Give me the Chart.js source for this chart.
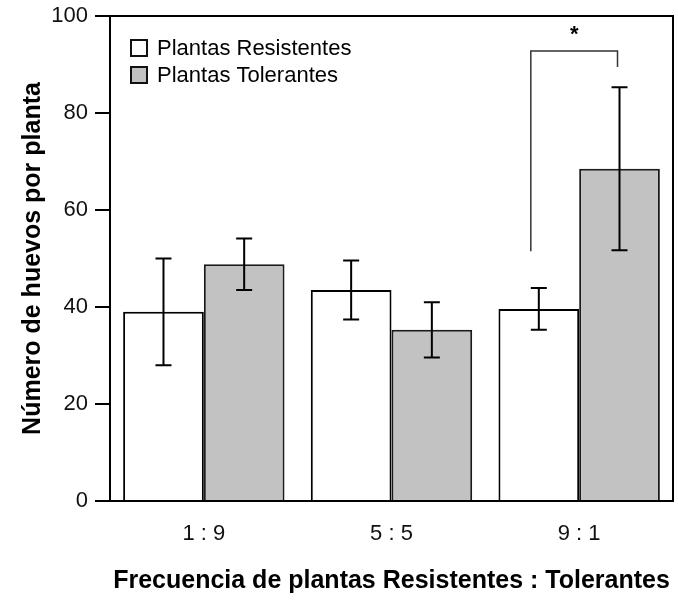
<!DOCTYPE html>
<html>
<head>
<meta charset="utf-8">
<script src="https://cdn.jsdelivr.net/npm/chart.js@4.4.1/dist/chart.umd.min.js"></script>
<style>
  html, body { margin: 0; padding: 0; background: #fff; }
  #wrap { width: 678px; height: 605px; }
</style>
</head>
<body>
<div id="wrap"><canvas id="chart" width="678" height="605"></canvas></div>
<script>
// datos
const categories = ['1 : 9', '5 : 5', '9 : 1'];
const seriesNames = ['Plantas Resistentes', 'Plantas Tolerantes'];
const resistentes = [39.0, 43.5, 39.6];
const resistentesErr = [11.0, 6.1, 4.3];
const tolerantes = [48.8, 35.3, 68.5];
const tolerantesErr = [5.3, 5.7, 16.8];
const yTicks = [0, 20, 40, 60, 80, 100];
// corchete de significancia en el grupo 9 : 1 (nivel, pata izq., pata der.)
const sigBracket = [92.8, 51.5, 89.5];
const sigLabel = '*';

const FONT = "'Liberation Sans', Arial, sans-serif";

const errorBars = {
  id: 'errorBars',
  afterDatasetsDraw(chart) {
    const ctx = chart.ctx;
    const y = chart.scales.y;
    const errs = [resistentesErr, tolerantesErr];
    ctx.save();
    ctx.strokeStyle = '#000';
    ctx.lineWidth = 2;
    chart.data.datasets.forEach((ds, di) => {
      chart.getDatasetMeta(di).data.forEach((bar, i) => {
        const v = ds.data[i];
        const top = y.getPixelForValue(v + errs[di][i]);
        const bot = y.getPixelForValue(v - errs[di][i]);
        ctx.beginPath();
        ctx.moveTo(bar.x, top); ctx.lineTo(bar.x, bot);
        ctx.moveTo(bar.x - 8, top); ctx.lineTo(bar.x + 8, top);
        ctx.moveTo(bar.x - 8, bot); ctx.lineTo(bar.x + 8, bot);
        ctx.stroke();
      });
    });

    // corchete + asterisco
    const left = chart.getDatasetMeta(0).data[2].x - 8;
    const right = chart.getDatasetMeta(1).data[2].x - 2;
    const lvl = y.getPixelForValue(sigBracket[0]);
    ctx.lineWidth = 1.5;
    ctx.strokeStyle = '#333';
    ctx.beginPath();
    ctx.moveTo(left, y.getPixelForValue(sigBracket[1]));
    ctx.lineTo(left, lvl);
    ctx.lineTo(right, lvl);
    ctx.lineTo(right, y.getPixelForValue(sigBracket[2]));
    ctx.stroke();
    ctx.fillStyle = '#000';
    ctx.font = 'bold 22px ' + FONT;
    ctx.textAlign = 'center';
    ctx.textBaseline = 'middle';
    ctx.fillText(sigLabel, (left + right) / 2, lvl - 16);
    ctx.restore();
  }
};

const frameAndLegend = {
  id: 'frameAndLegend',
  afterDraw(chart) {
    const ctx = chart.ctx;
    const a = chart.chartArea;
    ctx.save();
    ctx.strokeStyle = '#000';
    ctx.lineWidth = 2;
    ctx.beginPath();
    ctx.moveTo(a.left, a.top);
    ctx.lineTo(a.right, a.top);
    ctx.lineTo(a.right, a.bottom);
    ctx.stroke();

    // leyenda dentro del área
    ctx.font = '22px ' + FONT;
    ctx.textBaseline = 'middle';
    ctx.textAlign = 'left';
    chart.data.datasets.forEach((ds, i) => {
      const cy = a.top + 32 + i * 27;
      ctx.fillStyle = ds.backgroundColor;
      ctx.fillRect(a.left + 21, cy - 8, 16, 16);
      ctx.lineWidth = 2;
      ctx.strokeStyle = '#111';
      ctx.strokeRect(a.left + 21, cy - 8, 16, 16);
      ctx.fillStyle = '#000';
      ctx.fillText(ds.label, a.left + 47, cy + 1);
    });
    ctx.restore();
  }
};

new Chart(document.getElementById('chart'), {
  type: 'bar',
  data: {
    labels: categories,
    datasets: [
      {
        label: seriesNames[0],
        data: resistentes,
        backgroundColor: '#ffffff',
        borderColor: '#000',
        borderWidth: 2
      },
      {
        label: seriesNames[1],
        data: tolerantes,
        backgroundColor: '#c2c2c2',
        borderColor: '#1a1a1a',
        borderWidth: 2
      }
    ]
  },
  options: {
    responsive: false,
    animation: false,
    layout: { padding: { top: 16, right: 5, left: 0, bottom: 0 } },
    datasets: { bar: { categoryPercentage: 0.86, barPercentage: 1.0 } },
    plugins: {
      legend: { display: false },
      tooltip: { enabled: false }
    },
    scales: {
      x: {
        grid: { display: false },
        border: { display: true, color: '#000', width: 2 },
        ticks: {
          color: '#111',
          font: { family: FONT, size: 22 },
          padding: 12
        },
        title: {
          display: true,
          text: 'Frecuencia de plantas Resistentes : Tolerantes',
          color: '#000',
          font: { family: FONT, size: 25, weight: 'bold' },
          padding: { top: 0, bottom: 9 }
        },
        afterFit(scale) { scale.height = 104; }
      },
      y: {
        min: 0,
        max: 100,
        afterBuildTicks(scale) { scale.ticks = yTicks.map(v => ({ value: v })); },
        grid: {
          drawOnChartArea: false,
          drawTicks: true,
          tickLength: 15,
          color: '#000',
          lineWidth: 2
        },
        border: { display: true, color: '#000', width: 2 },
        ticks: {
          color: '#111',
          font: { family: FONT, size: 22 },
          padding: 7
        },
        title: {
          display: true,
          text: 'Número de huevos por planta',
          color: '#000',
          font: { family: FONT, size: 25, weight: 'bold' },
          padding: { top: 18, bottom: 0 }
        },
        afterFit(scale) {
          scale.width = 110;
          scale.paddingTop = 0;
          scale.paddingBottom = 0;
        }
      }
    }
  },
  plugins: [errorBars, frameAndLegend]
});
</script>
</body>
</html>
